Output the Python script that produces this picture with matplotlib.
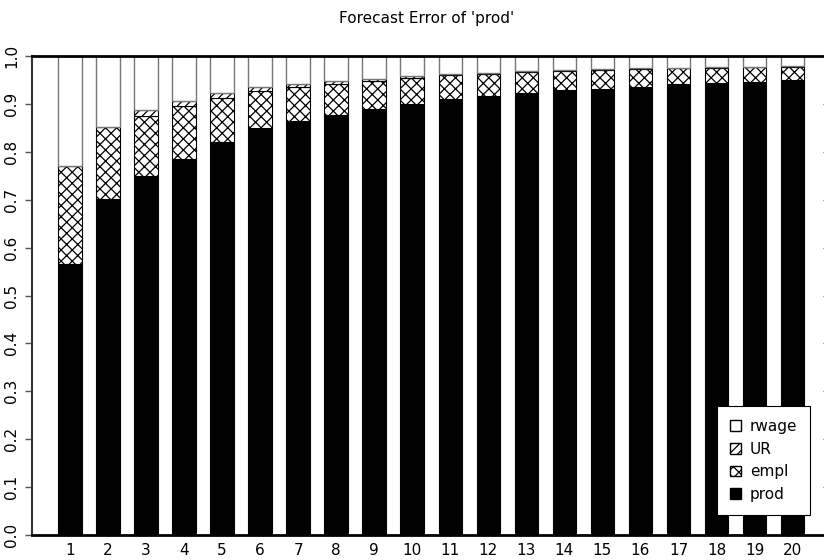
import matplotlib
matplotlib.use("Agg")
import matplotlib.pyplot as plt
from matplotlib.patches import Patch
import numpy as np

horizons = list(range(1, 21))
prod = [0.565, 0.701, 0.750, 0.786, 0.821, 0.850, 0.865, 0.877, 0.890, 0.900,
        0.910, 0.917, 0.923, 0.928, 0.932, 0.936, 0.941, 0.944, 0.946, 0.949]
empl = [0.205, 0.150, 0.125, 0.110, 0.092, 0.077, 0.070, 0.065, 0.057, 0.054,
        0.050, 0.046, 0.043, 0.041, 0.039, 0.036, 0.033, 0.031, 0.030, 0.029]
UR = [0.001, 0.001, 0.012, 0.011, 0.009, 0.008, 0.007, 0.006, 0.006, 0.004,
      0.003, 0.002, 0.002, 0.001, 0.001, 0.002, 0.001, 0.001, 0.002, 0.001]
rwage = [0.229, 0.148, 0.113, 0.093, 0.078, 0.065, 0.058, 0.052, 0.047, 0.042,
         0.037, 0.035, 0.032, 0.030, 0.028, 0.026, 0.025, 0.024, 0.022, 0.021]
yticks = [0.0, 0.1, 0.2, 0.3, 0.4, 0.5, 0.6, 0.7, 0.8, 0.9, 1.0]
title = "Forecast Error of 'prod'"

plt.rcParams['font.family'] = ['DejaVu Sans']
plt.rcParams['hatch.linewidth'] = 0.9

fig = plt.figure(figsize=(8.24, 5.6), dpi=100)
ax = fig.add_axes([32/824, 1-535/560, 791/824, 479/560])

x = np.array(horizons)
w = 0.62
b1 = np.array(prod)
b2 = b1 + np.array(empl)
b3 = b2 + np.array(UR)

ax.bar(x, prod, width=w, color='black', edgecolor='black', linewidth=0.8)
ax.bar(x, empl, width=w, bottom=b1, color='white', edgecolor='black', hatch='xxx', linewidth=0.8)
ax.bar(x, UR, width=w, bottom=b2, color='white', edgecolor='black', hatch='////', linewidth=0.8)
ax.bar(x, rwage, width=w, bottom=b3, color='white', edgecolor='#777777', linewidth=1.0)

ax.set_xlim(0, 20.8)
ax.set_ylim(0, 1.0)
ax.set_xticks(x)
ax.set_xticklabels([str(h) for h in horizons], fontsize=11)
ax.tick_params(axis='x', length=0, pad=6)
ax.set_yticks(yticks)
ax.set_yticklabels([f"{v:.1f}" for v in yticks], fontsize=11, rotation=90, va='center')
ax.tick_params(axis='y', left=True, right=True, length=5, width=1.0, color='#555555', pad=4)
for t in ax.yaxis.get_major_ticks():
    t.tick2line.set_markersize(3)
ax.spines['right'].set_visible(False)
ax.spines['top'].set_linewidth(2)
ax.spines['bottom'].set_linewidth(2)
ax.spines['left'].set_linewidth(1.5)
ax.spines['left'].set_color('#333333')

fig.text(427/824, 1-18/560, title, ha='center', va='center', fontsize=11)

handles = [
    Patch(facecolor='white', edgecolor='black', label='rwage'),
    Patch(facecolor='white', edgecolor='black', hatch='////', label='UR'),
    Patch(facecolor='white', edgecolor='black', hatch='xxx', label='empl'),
    Patch(facecolor='black', edgecolor='black', label='prod'),
]
leg = ax.legend(handles=handles, loc='lower right', bbox_to_anchor=(0.984, 0.042),
                borderaxespad=0, fancybox=False, framealpha=1, edgecolor='black',
                fontsize=11, handlelength=0.7, handleheight=0.7, handletextpad=0.6,
                labelspacing=0.5, borderpad=0.85)
leg.get_frame().set_linewidth(0.8)

fig.savefig('out.png', dpi=100)
